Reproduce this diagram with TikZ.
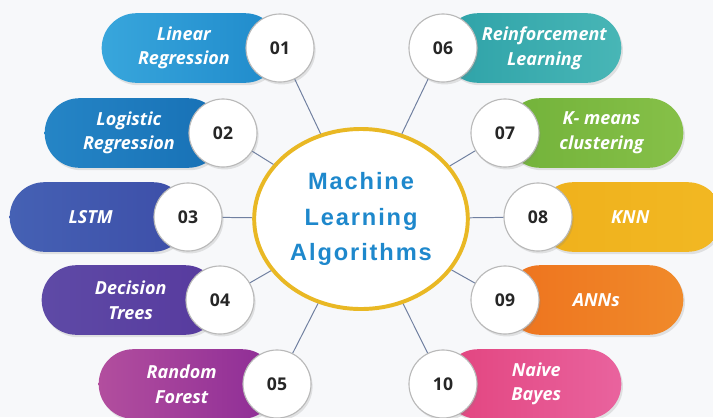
\documentclass[tikz,border=0pt]{standalone}
\usepackage{fontspec}
\usepackage{xcolor}
\usepackage{tikz}
\usetikzlibrary{shapes.geometric,shadows}

\newfontfamily\pillfont{Open Sans}
\newfontfamily\titlefont{Liberation Sans}[LetterSpace=8]

\definecolor{bgc}{HTML}{F7F8FA}
\definecolor{ringc}{HTML}{E9B824}
\definecolor{titlec}{HTML}{1E88CC}
\definecolor{linkc}{HTML}{7080A0}
\definecolor{c01a}{HTML}{38A6DC}\definecolor{c01b}{HTML}{1F8ACB}
\definecolor{c02a}{HTML}{2585C6}\definecolor{c02b}{HTML}{1770B5}
\definecolor{c03a}{HTML}{4561B4}\definecolor{c03b}{HTML}{3D4EA8}
\definecolor{c04a}{HTML}{5E4AA6}\definecolor{c04b}{HTML}{573A9E}
\definecolor{c05a}{HTML}{B24E9E}\definecolor{c05b}{HTML}{8D2C96}
\definecolor{c06a}{HTML}{2EA2A8}\definecolor{c06b}{HTML}{48B6B6}
\definecolor{c07a}{HTML}{72B23A}\definecolor{c07b}{HTML}{86C048}
\definecolor{c08a}{HTML}{EFB11C}\definecolor{c08b}{HTML}{F2B823}
\definecolor{c09a}{HTML}{EE731E}\definecolor{c09b}{HTML}{F08A2A}
\definecolor{c10a}{HTML}{E2447F}\definecolor{c10b}{HTML}{E9639E}

\begin{document}
\begin{tikzpicture}[
	x=0.025cm, y=-0.025cm,
	pill/.style={
		rectangle, rounded corners=0.87cm,
		minimum width=4.45cm, minimum height=1.74cm, inner sep=0pt,
		drop shadow={opacity=0.2, shadow xshift=0.4mm, shadow yshift=-0.6mm}
	},
	pill text/.style={text=white, align=center,
		font=\pillfont\bfseries\itshape\fontsize{12.8}{17.5}\selectfont},
	num/.style={
		circle, fill=white, draw=gray!55, line width=0.8pt,
		minimum size=1.7cm, inner sep=0pt, text=black!85,
		font=\pillfont\bfseries\fontsize{12.5}{14}\selectfont,
		drop shadow={opacity=0.2, shadow xshift=0.4mm, shadow yshift=-0.6mm}
	},
	link/.style={draw=linkc, line width=0.7pt}
	]
	\useasboundingbox (0,0) rectangle (713,417);
	\fill[bgc] (0,0) rectangle (713,417);

	% centre
	\node[ellipse, draw=ringc, line width=2.8pt, fill=white,
		minimum width=5.2cm, minimum height=4.5cm, align=center, text=titlec,
		font=\titlefont\bfseries\fontsize{16.8}{25}\selectfont]
		(ml) at (361,219) {Machine\\Learning\\Algorithms};

	% left side
	\node[pill, left color=c01a, right color=c01b, anchor=east] (p01) at (280,48) {};
	\node[num] (n01) at (p01.east) {01};
	\node[pill text] at ([xshift=-0.17cm]p01.center) {Linear\\Regression};

	\node[pill, left color=c02a, right color=c02b, anchor=east] (p02) at (223,133) {};
	\node[num] (n02) at (p02.east) {02};
	\node[pill text] at ([xshift=-0.12cm]p02.center) {Logistic\\Regression};

	\node[pill, left color=c03a, right color=c03b, anchor=east] (p03) at (188,217) {};
	\node[num] (n03) at (p03.east) {03};
	\node[pill text] at ([xshift=-0.2cm]p03.center) {LSTM};

	\node[pill, left color=c04a, right color=c04b, anchor=east] (p04) at (220,300) {};
	\node[num] (n04) at (p04.east) {04};
	\node[pill text] at ([xshift=0cm]p04.center) {Decision\\Trees};

	\node[pill, left color=c05a, right color=c05b, anchor=east] (p05) at (277,384) {};
	\node[num] (n05) at (p05.east) {05};
	\node[pill text] at ([xshift=-0.15cm]p05.center) {Random\\Forest};

	% right side
	\node[pill, left color=c06a, right color=c06b, anchor=west] (p06) at (443,48) {};
	\node[num] (n06) at (p06.west) {06};
	\node[pill text] at ([xshift=0.3cm]p06.center) {Reinforcement\\Learning};

	\node[pill, left color=c07a, right color=c07b, anchor=west] (p07) at (505,133) {};
	\node[num] (n07) at (p07.west) {07};
	\node[pill text] at ([xshift=0.18cm]p07.center) {K- means\\clustering};

	\node[pill, left color=c08a, right color=c08b, anchor=west, minimum width=4.6cm] (p08) at (538,217) {};
	\node[num] (n08) at (p08.west) {08};
	\node[pill text] at ([xshift=0cm]p08.center) {KNN};

	\node[pill, left color=c09a, right color=c09b, anchor=west] (p09) at (505,300) {};
	\node[num] (n09) at (p09.west) {09};
	\node[pill text] at ([xshift=0.05cm]p09.center) {ANNs};

	\node[pill, left color=c10a, right color=c10b, anchor=west] (p10) at (443,384) {};
	\node[num] (n10) at (p10.west) {10};
	\node[pill text] at ([xshift=0.1cm]p10.center) {Naive\\Bayes};

	% connectors
	\draw[link] (n01) -- (ml);
	\draw[link] (n02) -- (ml);
	\draw[link] (n03) -- (ml);
	\draw[link] (n04) -- (ml);
	\draw[link] (n05) -- (ml);
	\draw[link] (n06) -- (ml);
	\draw[link] (n07) -- (ml);
	\draw[link] (n08) -- (ml);
	\draw[link] (n09) -- (ml);
	\draw[link] (n10) -- (ml);
\end{tikzpicture}
\end{document}
